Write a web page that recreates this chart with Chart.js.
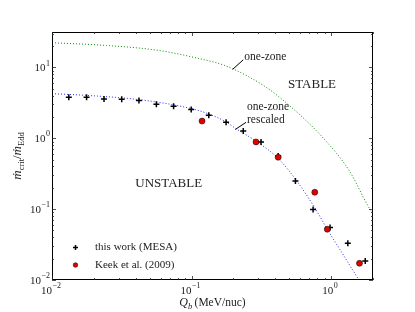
<!DOCTYPE html>
<html>
<head>
<meta charset="utf-8">
<script src="https://cdn.jsdelivr.net/npm/chart.js@4.4.1/dist/chart.umd.min.js"></script>
<style>
  html, body { margin: 0; padding: 0; background: #fff; }
  canvas { display: block; }
</style>
</head>
<body>
<canvas id="critChart" width="415" height="312"></canvas>
<script>
// MESA runs: base heating Q_b (MeV/nuc) vs critical accretion rate (Eddington units)
const mesaQ = [0.0132, 0.0177, 0.0236, 0.0316, 0.042, 0.056, 0.0744, 0.0995, 0.133, 0.177, 0.235, 0.315, 0.418, 0.556, 0.744, 0.984, 1.32, 1.76];
const mesaRate = [3.78, 3.78, 3.58, 3.54, 3.40, 3.01, 2.82, 2.54, 2.11, 1.68, 1.27, 0.887, 0.56, 0.25, 0.099, 0.0552, 0.0329, 0.0185];

// Keek et al. (2009)
const keekQ = [0.119, 0.29, 0.418, 0.765, 0.94, 1.60];
const keekRate = [1.75, 0.887, 0.54, 0.173, 0.052, 0.0172];

// one-zone model curves
const oneZoneQ = [0.01, 0.0246, 0.059, 0.114, 0.158, 0.197, 0.341, 0.501, 0.867, 1.345, 1.92, 2.0];
const oneZoneRate = [22.3, 20.4, 17.3, 13.3, 11.3, 9.6, 5.28, 2.92, 1.04, 0.354, 0.097, 0.088];
const rescaledQ = [0.01, 0.0177, 0.042, 0.1, 0.133, 0.177, 0.208, 0.296, 0.418, 0.56, 0.778, 0.941, 1.205, 1.585];
const rescaledRate = [4.26, 4.03, 3.51, 2.62, 2.2, 1.7, 1.37, 0.887, 0.52, 0.26, 0.099, 0.0518, 0.0238, 0.01];

const xTickVals = [0.01, 0.1, 1];
const xTickExp = ['\u22122', '\u22121', '0'];
const yTickVals = [0.01, 0.1, 1, 10];
const yTickExp = ['\u22122', '\u22121', '0', '1'];

const serif = '"Liberation Serif", "DejaVu Serif", serif';

function toPoints(xs, ys) {
    return xs.map((x, i) => ({ x: x, y: ys[i] }));
}

function logTicks(min, max) {
    const out = [];
    for (let d = Math.floor(Math.log10(min)); d <= Math.ceil(Math.log10(max)); d++) {
        for (let k = 1; k <= 9; k++) {
            const v = k * Math.pow(10, d);
            if (v >= min * 0.999 && v <= max * 1.001) out.push({ v: v, major: k === 1 });
        }
    }
    return out;
}

// "10" with a raised exponent
function powerLabel(ctx, exp, cx, cy, align) {
    ctx.font = '11px ' + serif;
    const wb = ctx.measureText('10').width;
    ctx.font = '8px ' + serif;
    const we = ctx.measureText(exp).width;
    const total = wb + we + 0.5;
    const x0 = align === 'right' ? cx - total : cx - total / 2;
    ctx.textAlign = 'left';
    ctx.textBaseline = 'middle';
    ctx.font = '11px ' + serif;
    ctx.fillText('10', x0, cy);
    ctx.font = '8px ' + serif;
    ctx.fillText(exp, x0 + wb + 0.5, cy - 5);
}

// draw a run of [text, font, dy] pieces centred on 0
function drawPieces(ctx, pieces) {
    let total = 0;
    pieces.forEach(p => { ctx.font = p[1]; total += ctx.measureText(p[0]).width; });
    let x = -total / 2;
    ctx.textAlign = 'left';
    ctx.textBaseline = 'alphabetic';
    pieces.forEach(p => {
        ctx.font = p[1];
        ctx.fillText(p[0], x, p[2]);
        x += ctx.measureText(p[0]).width;
    });
}

const decorPlugin = {
    id: 'decor',
    afterDraw(chart) {
        const ctx = chart.ctx;
        const a = chart.chartArea;
        const xs = chart.scales.x, ys = chart.scales.y;
        ctx.save();

        // frame
        ctx.strokeStyle = '#000';
        ctx.lineWidth = 1;
        ctx.strokeRect(a.left + 0.5, a.top + 0.5, a.right - a.left - 1, a.bottom - a.top - 1);

        // inward ticks on all four sides
        ctx.lineWidth = 0.8;
        ctx.strokeStyle = '#222';
        ctx.beginPath();
        logTicks(xs.min, xs.max).forEach(t => {
            const px = Math.round(xs.getPixelForValue(t.v)) + 0.5;
            const len = t.major ? 4 : 2;
            ctx.moveTo(px, a.bottom); ctx.lineTo(px, a.bottom - len);
            ctx.moveTo(px, a.top); ctx.lineTo(px, a.top + len);
        });
        logTicks(ys.min, ys.max).forEach(t => {
            const py = Math.round(ys.getPixelForValue(t.v)) + 0.5;
            const len = t.major ? 4 : 2;
            ctx.moveTo(a.left, py); ctx.lineTo(a.left + len, py);
            ctx.moveTo(a.right, py); ctx.lineTo(a.right - len, py);
        });
        ctx.stroke();

        // tick labels
        ctx.fillStyle = '#222';
        xTickVals.forEach((v, i) => {
            powerLabel(ctx, xTickExp[i], xs.getPixelForValue(v) - 1, a.bottom + 11, 'center');
        });
        yTickVals.forEach((v, i) => {
            powerLabel(ctx, yTickExp[i], a.left - 2, ys.getPixelForValue(v) + 1, 'right');
        });

        // axis titles
        ctx.save();
        ctx.translate((a.left + a.right) / 2, a.bottom + 26);
        drawPieces(ctx, [
            ['Q', 'italic 12px ' + serif, 0],
            ['b', 'italic 8.5px ' + serif, 2.5],
            ['\u2009(MeV/nuc)', '11.5px ' + serif, 0]
        ]);
        ctx.restore();

        ctx.save();
        ctx.translate(21, (a.top + a.bottom) / 2);
        ctx.rotate(-Math.PI / 2);
        drawPieces(ctx, [
            ['\u1E41', 'italic 13px ' + serif, 0],
            ['crit', '8.5px ' + serif, 2.5],
            ['/', '13px ' + serif, 0],
            ['\u1E41', 'italic 13px ' + serif, 0],
            ['Edd', '8.5px ' + serif, 2.5]
        ]);
        ctx.restore();

        // region labels and curve annotations (data coordinates)
        const px = v => xs.getPixelForValue(v);
        const py = v => ys.getPixelForValue(v);
        ctx.fillStyle = '#222';
        ctx.textBaseline = 'middle';
        ctx.textAlign = 'center';
        ctx.font = '13px ' + serif;
        ctx.fillText('STABLE', px(0.731), py(5.77));
        ctx.fillText('UNSTABLE', px(0.0686), py(0.23));

        ctx.textAlign = 'left';
        ctx.font = '11.5px ' + serif;
        ctx.fillText('one-zone', px(0.239), py(13.97));
        ctx.fillText('one-zone', px(0.25), py(2.76));
        ctx.fillText('rescaled', px(0.25), py(1.83));

        ctx.strokeStyle = '#000';
        ctx.lineWidth = 1;
        ctx.beginPath();
        ctx.moveTo(px(0.197), py(9.37)); ctx.lineTo(px(0.235), py(12.8));
        ctx.moveTo(px(0.206), py(1.33)); ctx.lineTo(px(0.246), py(1.68));
        ctx.stroke();

        // legend
        const lx = a.left + 23.5;
        const ly1 = a.bottom - 32.5, ly2 = a.bottom - 15;
        ctx.strokeStyle = '#000';
        ctx.lineWidth = 1.5;
        ctx.beginPath();
        ctx.moveTo(lx - 2.5, ly1); ctx.lineTo(lx + 2.5, ly1);
        ctx.moveTo(lx, ly1 - 2.5); ctx.lineTo(lx, ly1 + 2.5);
        ctx.stroke();
        ctx.beginPath();
        ctx.arc(lx, ly2, 2.3, 0, Math.PI * 2);
        ctx.fillStyle = '#e00000';
        ctx.fill();
        ctx.lineWidth = 0.5;
        ctx.stroke();
        ctx.fillStyle = '#222';
        ctx.font = '11px ' + serif;
        ctx.textAlign = 'left';
        ctx.fillText('this work (MESA)', a.left + 43, ly1);
        ctx.fillText('Keek et al. (2009)', a.left + 43, ly2);

        ctx.restore();
    }
};

new Chart(document.getElementById('critChart').getContext('2d'), {
    type: 'scatter',
    data: {
        datasets: [
            {
                label: 'Keek et al. (2009)',
                data: toPoints(keekQ, keekRate),
                pointStyle: 'circle',
                pointRadius: 3,
                backgroundColor: '#e00000',
                borderColor: '#000',
                borderWidth: 0.5,
                order: 0
            },
            {
                label: 'this work (MESA)',
                data: toPoints(mesaQ, mesaRate),
                pointStyle: 'cross',
                pointRadius: 3,
                borderColor: '#000',
                borderWidth: 1.5,
                order: 1
            },
            {
                label: 'one-zone rescaled',
                data: toPoints(rescaledQ, rescaledRate),
                showLine: true,
                pointRadius: 0,
                borderColor: 'rgb(40, 40, 255)',
                borderWidth: 1,
                borderDash: [1, 2],
                cubicInterpolationMode: 'monotone',
                order: 2
            },
            {
                label: 'one-zone',
                data: toPoints(oneZoneQ, oneZoneRate),
                showLine: true,
                pointRadius: 0,
                borderColor: 'rgb(0, 140, 0)',
                borderWidth: 1,
                borderDash: [1, 2],
                cubicInterpolationMode: 'monotone',
                order: 3
            }
        ]
    },
    options: {
        responsive: false,
        animation: false,
        devicePixelRatio: 1,
        layout: { padding: { left: 52, right: 42, top: 32, bottom: 32 } },
        plugins: { legend: { display: false }, tooltip: { enabled: false } },
        scales: {
            x: { type: 'logarithmic', min: 0.01, max: 2, display: false },
            y: { type: 'logarithmic', min: 0.01, max: 31.6, display: false }
        }
    },
    plugins: [decorPlugin]
});
</script>
</body>
</html>
